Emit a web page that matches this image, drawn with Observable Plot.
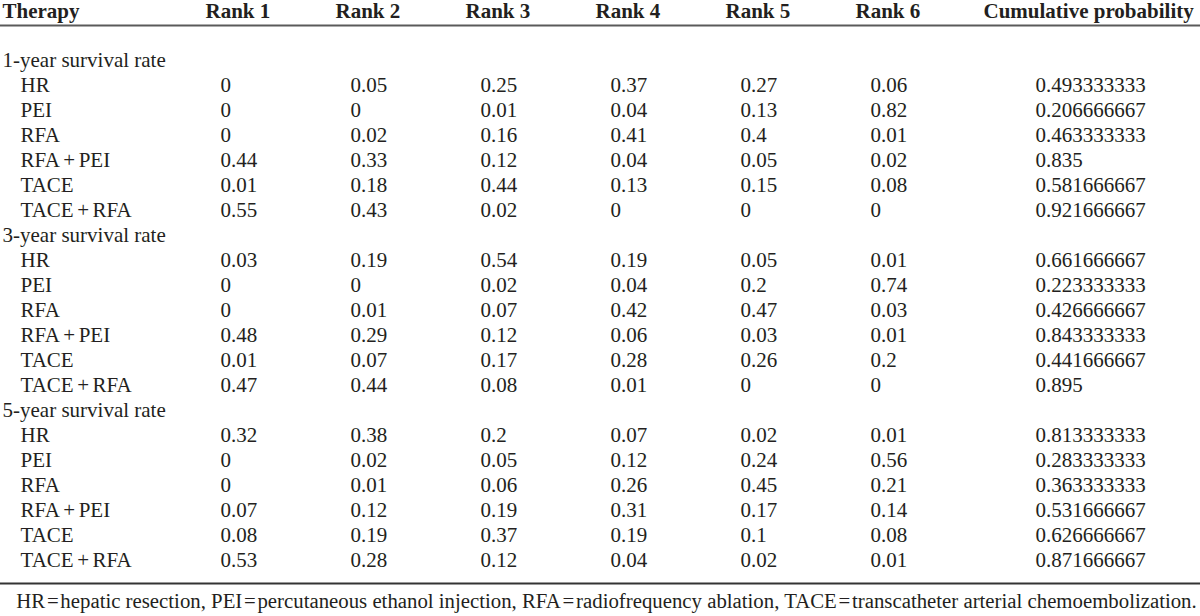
<!DOCTYPE html>
<html>
<head>
<meta charset="utf-8">
<script src="https://cdn.jsdelivr.net/npm/d3@7"></script>
<script src="https://cdn.jsdelivr.net/npm/@observablehq/plot@0.6"></script>
<style>
  html, body { margin: 0; padding: 0; background: #fff; }
  #chart svg { display: block; }
</style>
</head>
<body>
<div id="chart"></div>
<script>
// ---- Data ----
const groups = ["1-year survival rate", "3-year survival rate", "5-year survival rate"];
const therapies = ["HR", "PEI", "RFA", "RFA\u2006+\u2006PEI", "TACE", "TACE\u2006+\u2006RFA"];
const columns = ["Rank 1", "Rank 2", "Rank 3", "Rank 4", "Rank 5", "Rank 6", "Cumulative probability"];
const headerFirst = "Therapy";

// values listed per group (1-year, 3-year, 5-year), therapies in order above
const rank1 = [0, 0, 0, 0.44, 0.01, 0.55,   0.03, 0, 0, 0.48, 0.01, 0.47,   0.32, 0, 0, 0.07, 0.08, 0.53];
const rank2 = [0.05, 0, 0.02, 0.33, 0.18, 0.43,   0.19, 0, 0.01, 0.29, 0.07, 0.44,   0.38, 0.02, 0.01, 0.12, 0.19, 0.28];
const rank3 = [0.25, 0.01, 0.16, 0.12, 0.44, 0.02,   0.54, 0.02, 0.07, 0.12, 0.17, 0.08,   0.2, 0.05, 0.06, 0.19, 0.37, 0.12];
const rank4 = [0.37, 0.04, 0.41, 0.04, 0.13, 0,   0.19, 0.04, 0.42, 0.06, 0.28, 0.01,   0.07, 0.12, 0.26, 0.31, 0.19, 0.04];
const rank5 = [0.27, 0.13, 0.4, 0.05, 0.15, 0,   0.05, 0.2, 0.47, 0.03, 0.26, 0,   0.02, 0.24, 0.45, 0.17, 0.1, 0.02];
const rank6 = [0.06, 0.82, 0.01, 0.02, 0.08, 0,   0.01, 0.74, 0.03, 0.01, 0.2, 0,   0.01, 0.56, 0.21, 0.14, 0.08, 0.01];
const cumulative = [0.493333333, 0.206666667, 0.463333333, 0.835, 0.581666667, 0.921666667,
                    0.661666667, 0.223333333, 0.426666667, 0.843333333, 0.441666667, 0.895,
                    0.813333333, 0.283333333, 0.363333333, 0.531666667, 0.626666667, 0.871666667];

const footnote = "HR\u200a=\u200ahepatic resection, PEI\u200a=\u200apercutaneous ethanol injection, RFA\u200a=\u200aradiofrequency ablation, TACE\u200a=\u200atranscatheter arterial chemoembolization.";

// ---- Build table structures ----
const seriesByCol = [rank1, rank2, rank3, rank4, rank5, rank6, cumulative];
const rowKeys = [];
const groupRows = [];
const therapyRows = [];
const cells = [];
groups.forEach((g, gi) => {
  rowKeys.push(g);
  groupRows.push({key: g, label: g});
  therapies.forEach((t, ti) => {
    const key = g + "|" + t;
    rowKeys.push(key);
    therapyRows.push({key, label: t});
    const idx = gi * therapies.length + ti;
    columns.forEach((c, ci) => {
      cells.push({row: key, col: c, value: seriesByCol[ci][idx], cum: ci === columns.length - 1});
    });
  });
});

const font = "Liberation Serif, Times New Roman, serif";
const ink = "#231f20";

const chart = Plot.plot({
  width: 1200,
  height: 616,
  marginTop: 25,
  marginBottom: 33,
  marginLeft: 0,
  marginRight: 0,
  style: {fontFamily: font, background: "#fff"},
  x: {type: "point", domain: columns, range: [220, 1000], padding: 0, axis: null},
  y: {type: "point", domain: rowKeys, padding: 0, insetTop: 31, insetBottom: 19, axis: null},
  marks: [
    Plot.frame({anchor: "top", stroke: "#5a5a5a", strokeWidth: 2}),
    Plot.frame({anchor: "bottom", stroke: "#333", strokeWidth: 2}),
    // header row
    Plot.text([headerFirst], {frameAnchor: "top-left", text: d => d, textAnchor: "start", lineAnchor: "middle",
      dx: 2, dy: -14, fontSize: 21, fontWeight: "bold", fill: ink}),
    Plot.text(columns.slice(0, 6), {x: d => d, frameAnchor: "top", text: d => d, textAnchor: "start", lineAnchor: "middle",
      dx: -15, dy: -14, fontSize: 21, fontWeight: "bold", fill: ink}),
    Plot.text(columns.slice(6), {x: d => d, frameAnchor: "top", text: d => d, textAnchor: "start", lineAnchor: "middle",
      dx: -17, dy: -14, fontSize: 21, fontWeight: "bold", fill: ink}),
    // group labels
    Plot.text(groupRows, {y: "key", frameAnchor: "left", text: "label", textAnchor: "start",
      dx: 2, fontSize: 21, fill: ink}),
    // therapy labels
    Plot.text(therapyRows, {y: "key", frameAnchor: "left", text: "label", textAnchor: "start",
      dx: 20, fontSize: 21, fill: ink}),
    // rank values
    Plot.text(cells.filter(d => !d.cum), {x: "col", y: "row", text: d => String(d.value), textAnchor: "start",
      fontSize: 21, fill: ink}),
    // cumulative values
    Plot.text(cells.filter(d => d.cum), {x: "col", y: "row", text: d => String(d.value), textAnchor: "start",
      dx: 35, fontSize: 21, fill: ink}),
    // footnote
    Plot.text([footnote], {frameAnchor: "bottom", text: d => d, textAnchor: "middle", lineAnchor: "middle",
      dx: 6, dy: 18, fontSize: 20.8, fill: ink})
  ]
});

document.getElementById("chart").appendChild(chart);
</script>
</body>
</html>
